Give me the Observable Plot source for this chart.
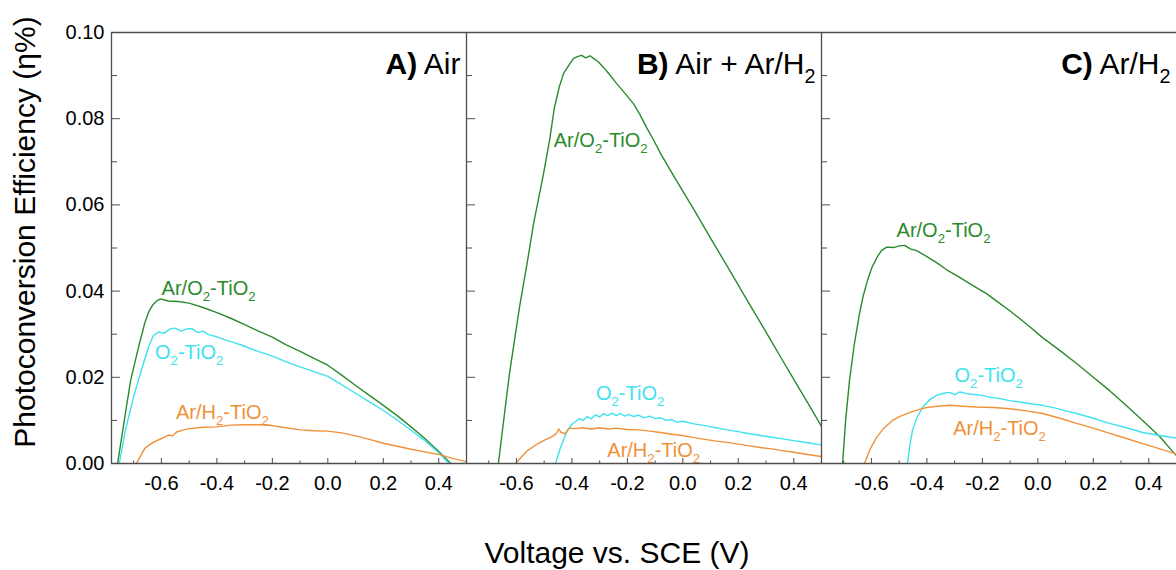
<!DOCTYPE html>
<html>
<head>
<meta charset="utf-8">
<script src="https://cdn.jsdelivr.net/npm/d3@7"></script>
<script src="https://cdn.jsdelivr.net/npm/@observablehq/plot@0.6"></script>
<style>
  body { margin: 0; background: #fff; }
  #wrap { position: relative; width: 1176px; height: 570px; font-family: "Liberation Sans", Arial, sans-serif; color: #000; overflow: hidden; }
  #ytitle { position: absolute; left: 25px; top: 232px; width: 520px; height: 30px; line-height: 30px; font-size: 30px;
            text-align: center; white-space: nowrap; transform: translate(-50%, -50%) rotate(-90deg); }
  #xtitle { position: absolute; left: 617px; top: 538px; height: 30px; line-height: 30px; font-size: 30px;
            white-space: nowrap; transform: translateX(-50%); }
</style>
</head>
<body>
<div id="wrap">
  <div id="chart"></div>
  <div id="ytitle">Photoconversion Efficiency (η%)</div>
  <div id="xtitle">Voltage vs. SCE (V)</div>
</div>
<script>
// ---------- data ----------
const panels = ["A", "B", "C"];
const panelTitles = ["A) Air", "B) Air + Ar/H₂", "C) Ar/H₂"];
const seriesNames = ["Ar/O₂-TiO₂", "O₂-TiO₂", "Ar/H₂-TiO₂"];

const xDomain = [-0.78, 0.5];
const yDomain = [0, 0.1];
const xMajor = [-0.6, -0.4, -0.2, 0, 0.2, 0.4];
const xTickLabels = ["-0.6", "-0.4", "-0.2", "0.0", "0.2", "0.4"];
const xMinor = [-0.7, -0.5, -0.3, -0.1, 0.1, 0.3, 0.5];
const yMajor = [0, 0.02, 0.04, 0.06, 0.08, 0.1];
const yTickLabels = ["0.00", "0.02", "0.04", "0.06", "0.08", "0.10"];
const yMinor = [0.01, 0.03, 0.05, 0.07, 0.09];

// Panel A: Air  ([voltage, efficiency])
const airArO2 = [[-0.758,0],[-0.730,0.0116],[-0.711,0.0193],[-0.683,0.0269],[-0.660,0.0326],[-0.645,0.0353],[-0.630,0.0369],[-0.615,0.0378],[-0.603,0.0382],[-0.575,0.0377],[-0.54,0.0376],[-0.50,0.0372],[-0.45,0.0362],[-0.40,0.0350],[-0.35,0.0337],[-0.30,0.0322],[-0.25,0.0307],[-0.20,0.0293],[-0.15,0.0275],[-0.10,0.0260],[-0.05,0.0244],[0.0,0.0228],[0.05,0.0205],[0.10,0.0181],[0.15,0.0158],[0.20,0.0135],[0.25,0.0111],[0.30,0.0085],[0.35,0.0058],[0.40,0.0028],[0.443,0]];
const airO2 = [[-0.752,0],[-0.730,0.0077],[-0.701,0.0153],[-0.665,0.0232],[-0.647,0.0269],[-0.629,0.0297],[-0.61,0.0305],[-0.59,0.0302],[-0.57,0.0312],[-0.55,0.0314],[-0.53,0.0307],[-0.51,0.0312],[-0.49,0.0313],[-0.47,0.0304],[-0.45,0.0307],[-0.43,0.0299],[-0.40,0.0294],[-0.37,0.0287],[-0.34,0.0281],[-0.30,0.0272],[-0.26,0.0262],[-0.20,0.0249],[-0.15,0.0236],[-0.10,0.0224],[-0.05,0.0213],[0.0,0.0202],[0.05,0.0183],[0.10,0.0163],[0.15,0.0143],[0.20,0.0123],[0.25,0.0101],[0.30,0.0077],[0.35,0.0053],[0.40,0.0025],[0.437,0]];
const airArH2 = [[-0.69,0],[-0.66,0.0035],[-0.63,0.0049],[-0.60,0.0058],[-0.575,0.0066],[-0.56,0.0064],[-0.545,0.0073],[-0.52,0.0078],[-0.50,0.0081],[-0.45,0.0084],[-0.40,0.0085],[-0.35,0.0089],[-0.30,0.0090],[-0.25,0.0090],[-0.20,0.0088],[-0.15,0.0083],[-0.10,0.0078],[-0.05,0.0076],[0.0,0.0075],[0.05,0.0071],[0.10,0.0064],[0.15,0.0056],[0.20,0.0047],[0.25,0.0040],[0.30,0.0033],[0.35,0.0027],[0.40,0.0021],[0.45,0.0012],[0.50,0.0004]];

// Panel B: Air + Ar/H2
const mixArO2 = [[-0.665,0],[-0.645,0.0105],[-0.625,0.0209],[-0.589,0.0362],[-0.560,0.0470],[-0.538,0.0557],[-0.502,0.0673],[-0.480,0.0752],[-0.463,0.0826],[-0.445,0.0875],[-0.430,0.0905],[-0.410,0.0925],[-0.394,0.0940],[-0.38,0.0944],[-0.365,0.0947],[-0.35,0.0941],[-0.335,0.0946],[-0.322,0.0940],[-0.305,0.0932],[-0.286,0.0919],[-0.265,0.0903],[-0.239,0.0882],[-0.21,0.0860],[-0.178,0.0835],[-0.155,0.0810],[-0.131,0.0780],[-0.105,0.0750],[-0.080,0.0719],[-0.04,0.0675],[0.0,0.0632],[0.04,0.0589],[0.08,0.0545],[0.12,0.0501],[0.16,0.0458],[0.20,0.0414],[0.24,0.0370],[0.28,0.0327],[0.32,0.0283],[0.36,0.0239],[0.40,0.0195],[0.45,0.0141],[0.50,0.0086]];
const mixO2 = [[-0.459,0],[-0.441,0.0037],[-0.416,0.0077],[-0.400,0.0091],[-0.385,0.0098],[-0.372,0.0104],[-0.360,0.0100],[-0.345,0.0109],[-0.330,0.0104],[-0.315,0.0113],[-0.300,0.0108],[-0.285,0.0116],[-0.270,0.0111],[-0.255,0.0117],[-0.240,0.0111],[-0.225,0.0116],[-0.210,0.0110],[-0.195,0.0114],[-0.178,0.0109],[-0.160,0.0112],[-0.14,0.0106],[-0.12,0.0110],[-0.10,0.0104],[-0.08,0.0106],[-0.06,0.0100],[-0.04,0.0102],[-0.02,0.0096],[0.0,0.0098],[0.04,0.0092],[0.08,0.0088],[0.12,0.0083],[0.16,0.0078],[0.20,0.0074],[0.24,0.0069],[0.28,0.0065],[0.32,0.0061],[0.36,0.0057],[0.40,0.0053],[0.45,0.0048],[0.50,0.0043]];
const mixArH2 = [[-0.603,0],[-0.58,0.0017],[-0.56,0.0030],[-0.53,0.0043],[-0.502,0.0053],[-0.47,0.0063],[-0.455,0.0070],[-0.448,0.0080],[-0.44,0.0073],[-0.425,0.0069],[-0.41,0.0082],[-0.39,0.0081],[-0.36,0.0083],[-0.33,0.0080],[-0.30,0.0083],[-0.27,0.0080],[-0.24,0.0082],[-0.20,0.0079],[-0.16,0.0078],[-0.12,0.0075],[-0.08,0.0072],[-0.04,0.0068],[0.0,0.0065],[0.04,0.0060],[0.08,0.0056],[0.12,0.0052],[0.16,0.0049],[0.20,0.0045],[0.24,0.0041],[0.28,0.0037],[0.32,0.0034],[0.36,0.0030],[0.40,0.0026],[0.45,0.0021],[0.50,0.0016]];

// Panel C: Ar/H2
const h2ArO2 = [[-0.704,0],[-0.693,0.0100],[-0.679,0.0193],[-0.662,0.0275],[-0.643,0.0348],[-0.630,0.0388],[-0.614,0.0425],[-0.598,0.0455],[-0.580,0.0478],[-0.564,0.0494],[-0.545,0.0502],[-0.52,0.0501],[-0.50,0.0505],[-0.48,0.0506],[-0.46,0.0498],[-0.437,0.0494],[-0.40,0.0480],[-0.365,0.0466],[-0.33,0.0450],[-0.282,0.0432],[-0.24,0.0415],[-0.185,0.0394],[-0.145,0.0375],[-0.102,0.0355],[-0.04,0.0323],[0.017,0.0292],[0.08,0.0262],[0.140,0.0232],[0.20,0.0200],[0.259,0.0169],[0.32,0.0134],[0.378,0.0100],[0.44,0.0062],[0.493,0.0023],[0.51,0.0012]];
const h2O2 = [[-0.470,0],[-0.462,0.0040],[-0.452,0.0077],[-0.435,0.0107],[-0.416,0.0130],[-0.39,0.0148],[-0.365,0.0158],[-0.34,0.0163],[-0.318,0.0165],[-0.30,0.0160],[-0.28,0.0166],[-0.257,0.0162],[-0.23,0.0160],[-0.199,0.0158],[-0.17,0.0153],[-0.14,0.0151],[-0.102,0.0146],[-0.06,0.0142],[-0.02,0.0138],[0.017,0.0135],[0.06,0.0129],[0.10,0.0122],[0.140,0.0116],[0.20,0.0105],[0.259,0.0093],[0.32,0.0083],[0.378,0.0072],[0.44,0.0065],[0.50,0.0059]];
const h2ArH2 = [[-0.625,0],[-0.605,0.0033],[-0.582,0.0060],[-0.555,0.0082],[-0.524,0.0100],[-0.495,0.0110],[-0.463,0.0118],[-0.43,0.0125],[-0.401,0.0130],[-0.36,0.0133],[-0.318,0.0135],[-0.27,0.0133],[-0.221,0.0131],[-0.16,0.0130],[-0.102,0.0127],[-0.04,0.0122],[0.017,0.0116],[0.08,0.0105],[0.140,0.0093],[0.20,0.0082],[0.259,0.0070],[0.32,0.0058],[0.378,0.0046],[0.44,0.0034],[0.50,0.0022]];

// Curve-label anchors (data coordinates), per panel in seriesNames order
const labelVolt = [[-0.43, -0.50, -0.38], [-0.296, -0.19, -0.105], [-0.34, -0.177, -0.138]];
const labelEta  = [[0.0405, 0.0258, 0.0118], [0.075, 0.0162, 0.0030], [0.054, 0.0204, 0.0081]];

// ---------- build tables ----------
const seriesByPanel = [[airArO2, airO2, airArH2], [mixArO2, mixO2, mixArH2], [h2ArO2, h2O2, h2ArH2]];
const rows = [];
panels.forEach((p, i) => seriesByPanel[i].forEach((pts, j) =>
  pts.forEach(([v, eta]) => rows.push({panel: p, series: seriesNames[j], v, eta}))));
const labelRows = [];
panels.forEach((p, i) => seriesNames.forEach((s, j) =>
  labelRows.push({panel: p, series: s, v: labelVolt[i][j], eta: labelEta[i][j]})));
const titleRows = panels.map((p, i) => ({panel: p, title: panelTitles[i]}));

const axisColor = "#4d4d4d";

const chart = Plot.plot({
  width: 1176,
  height: 510,
  marginLeft: 111,
  marginRight: 0,
  marginTop: 32,
  marginBottom: 47,
  style: {fontFamily: "Liberation Sans, Arial, sans-serif", fontSize: "20px", color: "#000", background: "#fff"},
  fx: {domain: panels, padding: 0, axis: null, label: null},
  x: {domain: xDomain},
  y: {domain: yDomain},
  color: {domain: seriesNames, range: ["#2b8a2b", "#3ee2ef", "#f0913a"]},
  marks: [
    Plot.line(rows, {x: "v", y: "eta", z: "series", stroke: "series", fx: "panel", strokeWidth: 1.4, clip: true}),
    Plot.text(labelRows, {x: "v", y: "eta", text: "series", fill: "series", fx: "panel", fontSize: 20}),
    Plot.text(titleRows, {text: "title", fx: "panel", frameAnchor: "top-right", textAnchor: "end", lineAnchor: "top", dx: -6, dy: 20, fontSize: 30, fill: "#000"}),
    Plot.ruleY(yDomain, {stroke: axisColor, strokeWidth: 1.3}),
    Plot.ruleX(xDomain.slice(0, 1), {stroke: axisColor, strokeWidth: 1.3}),
    // inward ticks
    Plot.axisY({ticks: yMajor, anchor: "right", frameAnchor: "left", tickSize: 8, fill: "none", label: null, stroke: axisColor, facetAnchor: null}),
    Plot.axisY({ticks: yMinor, anchor: "right", frameAnchor: "left", tickSize: 5, fill: "none", label: null, stroke: axisColor, facetAnchor: null}),
    Plot.axisX({ticks: xMajor, anchor: "top", frameAnchor: "bottom", tickSize: 6, fill: "none", label: null, stroke: axisColor, facetAnchor: null}),
    Plot.axisX({ticks: xMinor, anchor: "top", frameAnchor: "bottom", tickSize: 3.5, fill: "none", label: null, stroke: axisColor, facetAnchor: null}),
    // tick labels
    Plot.axisY({ticks: yMajor, tickSize: 0, tickPadding: 7, label: null, fontSize: 20, fill: "#000",
                tickFormat: d => yTickLabels[yMajor.indexOf(d)]}),
    Plot.axisX({ticks: xMajor, tickSize: 0, tickPadding: 12, label: null, fontSize: 20, fill: "#000", facetAnchor: null,
                tickFormat: d => xTickLabels[xMajor.indexOf(d)]})
  ]
});
document.getElementById("chart").appendChild(chart);

// subscripts and bold panel letters as tspans
(function richify(root) {
  const ns = "http://www.w3.org/2000/svg";
  root.querySelectorAll("text").forEach(t => {
    if (t.querySelector("tspan")) return;
    const s = t.textContent;
    const bold = s.match(/^([A-Z]\))(.*)$/);
    if (!s.includes("₂") && !bold) return;
    const fs = parseFloat(getComputedStyle(t).fontSize) || 20;
    const sh = fs * 0.3;
    t.textContent = "";
    let rest = s, shifted = false;
    if (bold) {
      const b = document.createElementNS(ns, "tspan");
      b.setAttribute("font-weight", "bold");
      b.textContent = bold[1];
      t.appendChild(b);
      rest = bold[2];
    }
    const parts = rest.split("₂");
    parts.forEach((p, i) => {
      if (p) {
        const n = document.createElementNS(ns, "tspan");
        n.textContent = p;
        if (shifted) { n.setAttribute("dy", -sh); shifted = false; }
        t.appendChild(n);
      }
      if (i < parts.length - 1) {
        const sub = document.createElementNS(ns, "tspan");
        sub.textContent = "2";
        sub.setAttribute("font-size", fs * 0.66);
        sub.setAttribute("dy", sh);
        shifted = true;
        t.appendChild(sub);
      }
    });
  });
})(chart);
</script>
</body>
</html>
